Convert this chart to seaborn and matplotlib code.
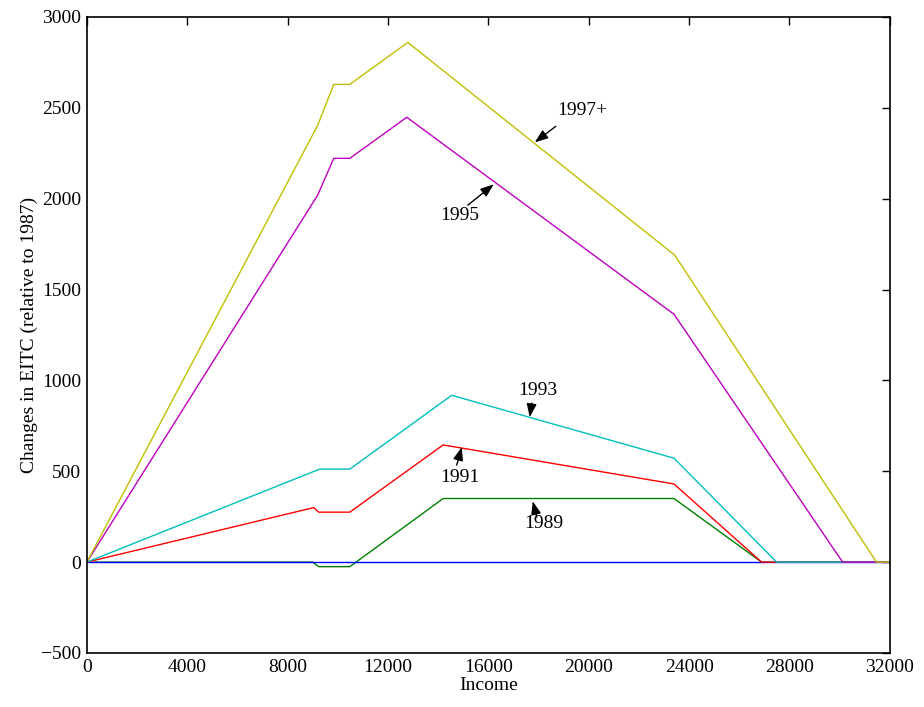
import matplotlib
matplotlib.use("Agg")
import matplotlib.pyplot as plt
import seaborn as sns
import pandas as pd

# Data (income, change in EITC relative to 1987)
x_1987 = [0, 32000]
y_1987 = [0, 0]

x_1989 = [0, 9000, 9240, 10480, 14200, 23400, 26890, 32000]
y_1989 = [0, 0, -25, -25, 350, 350, 0, 0]

x_1991 = [0, 9040, 9240, 10480, 14200, 23400, 26890, 32000]
y_1991 = [0, 300, 275, 275, 645, 430, 0, 0]

x_1993 = [0, 9280, 10480, 14540, 23400, 27490, 32000]
y_1993 = [0, 512, 512, 918, 572, 0, 0]

x_1995 = [0, 9200, 9840, 10480, 12750, 23400, 30120, 32000]
y_1995 = [0, 2020, 2222, 2222, 2448, 1364, 0, 0]

x_1997 = [0, 9200, 9840, 10480, 12790, 23430, 31470, 32000]
y_1997 = [0, 2404, 2629, 2629, 2860, 1689, 0, 0]

x_ticks = [0, 4000, 8000, 12000, 16000, 20000, 24000, 28000, 32000]
y_ticks = [-500, 0, 500, 1000, 1500, 2000, 2500, 3000]

labels = ["1997+", "1995", "1993", "1991", "1989"]
label_xy = [(19760, 2486), (14860, 1909), (17970, 946), (14860, 468), (18200, 215)]
tail_xy = [(18685, 2398), (15180, 1964), (17730, 875), (14740, 534), (17930, 248)]
tip_xy = [(17850, 2310), (16215, 2079), (17650, 798), (14940, 633), (17770, 335)]

sns.set_style("white")
plt.rcParams['font.family'] = ['Liberation Serif', 'DejaVu Serif']
plt.rcParams['mathtext.fontset'] = 'stix'
plt.rcParams['text.color'] = 'black'
plt.rcParams['axes.labelcolor'] = 'black'
plt.rcParams['xtick.color'] = 'black'
plt.rcParams['ytick.color'] = 'black'

fig = plt.figure(figsize=(9.24, 7.07), dpi=100)
ax = fig.add_axes([0.094, 0.0764, 0.869, 0.8996])

series = [
    (x_1989, y_1989, (0, 0.5, 0)),
    (x_1987, y_1987, (0, 0, 1)),
    (x_1991, y_1991, (1, 0, 0)),
    (x_1993, y_1993, (0, 0.75, 0.75)),
    (x_1995, y_1995, (0.75, 0, 0.75)),
    (x_1997, y_1997, (0.75, 0.75, 0)),
]
for xs, ys, c in series:
    df = pd.DataFrame({"Income": xs, "v": ys})
    sns.lineplot(data=df, x="Income", y="v", ax=ax, color=c, linewidth=1.0,
                 sort=False, estimator=None)

for lab, txy, tl, tp in zip(labels, label_xy, tail_xy, tip_xy):
    ax.text(txy[0], txy[1], lab, ha='center', va='center', fontsize=14, color='black')
    ax.annotate("", xy=tp, xytext=tl,
                arrowprops=dict(arrowstyle='-|>,head_length=0.8,head_width=0.3',
                                color='black', lw=1.0, shrinkA=0, shrinkB=0))

ax.set_xlim(0, 32000)
ax.set_ylim(-500, 3000)
ax.set_xticks(x_ticks)
ax.set_yticks(y_ticks)
ax.set_xlabel("Income", fontsize=14, labelpad=1, color='black')
ax.set_ylabel("Changes in EITC (relative to 1987)", fontsize=14, labelpad=2, color='black')
ax.tick_params(direction='in', top=True, right=True, labelsize=14, length=6, width=1, pad=4,
               colors='black')
for s in ax.spines.values():
    s.set_visible(True)
    s.set_color('black')
    s.set_linewidth(1.2)

fig.savefig("out.png", dpi=100)
